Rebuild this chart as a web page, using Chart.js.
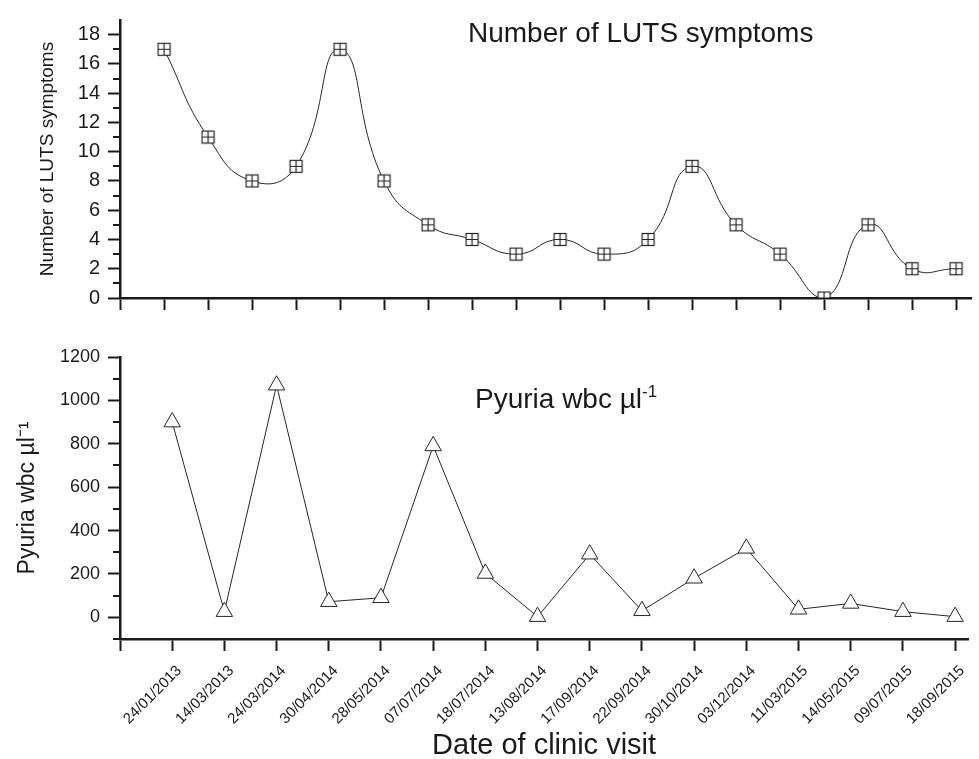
<!DOCTYPE html>
<html>
<head>
<meta charset="utf-8">
<script src="https://cdn.jsdelivr.net/npm/chart.js@4/dist/chart.umd.min.js"></script>
<style>
  html, body { margin: 0; padding: 0; background: #fff; }
  #wrap { position: relative; width: 979px; height: 759px; font-family: "Liberation Sans", Arial, sans-serif; color: #1a1a1a; }
  canvas { position: absolute; left: 0; top: 0; }
  .panelTitle { position: absolute; font-size: 28px; line-height: 28px; white-space: nowrap; }
  .panelTitle sup { font-size: 17px; vertical-align: 0; position: relative; top: -11px; }
</style>
</head>
<body>
<div id="wrap">
  <canvas id="lutsChart" width="979" height="759"></canvas>
  <canvas id="pyuriaChart" width="979" height="759"></canvas>
  <div class="panelTitle" style="left:468px;top:19px">Number of LUTS symptoms</div>
  <div class="panelTitle" style="left:475px;top:385px">Pyuria wbc &micro;l<sup>-1</sup></div>
</div>
<script>
// values
const visitDates = ['24/01/2013', '14/03/2013', '24/03/2014', '30/04/2014', '28/05/2014', '07/07/2014',
  '18/07/2014', '13/08/2014', '17/09/2014', '22/09/2014', '30/10/2014', '03/12/2014',
  '11/03/2015', '14/05/2015', '09/07/2015', '18/09/2015'];
const lutsCounts = [17, 11, 8, 9, 17, 8, 5, 4, 3, 4, 3, 4, 9, 5, 3, 0, 5, 2, 2];
const pyuriaWbc = [900, 26, 1070, 72, 90, 790, 202, 3, 291, 30, 180, 318, 37, 64, 26, 3];
const lutsTicks = [0, 2, 4, 6, 8, 10, 12, 14, 16, 18];
const lutsMinor = [1, 3, 5, 7, 9, 11, 13, 15, 17];
const pyuriaTicks = [0, 200, 400, 600, 800, 1000, 1200];
const pyuriaMinor = [-100, 100, 300, 500, 700, 900, 1100];

const ink = '#1a1a1a';
const lineInk = '#262626';
const font = '"Liberation Sans", Arial, sans-serif';
Chart.defaults.font.family = font;
Chart.defaults.color = ink;

// square with a plus inside, like the origin marker
function crossedSquare(size) {
  let c = document.createElement('canvas');
  c.width = size; c.height = size;
  let g = c.getContext('2d');
  let m = size / 2;
  g.fillStyle = '#fff';
  g.fillRect(1, 1, size - 2, size - 2);
  g.strokeStyle = lineInk;
  g.lineWidth = 1.2;
  g.strokeRect(1.5, 1.5, size - 3, size - 3);
  g.beginPath();
  g.moveTo(m, 1.5); g.lineTo(m, size - 1.5);
  g.moveTo(1.5, m); g.lineTo(size - 1.5, m);
  g.stroke();
  return c;
}

const minorTicks = {
  id: 'minorTicks',
  afterDraw(chart, args, opts) {
    let scale = chart.scales.y;
    let ctx = chart.ctx;
    ctx.save();
    ctx.strokeStyle = ink;
    ctx.lineWidth = 2;
    ctx.beginPath();
    opts.values.forEach(v => {
      let py = Math.round(scale.getPixelForValue(v));
      ctx.moveTo(scale.right - opts.length, py);
      ctx.lineTo(scale.right, py);
    });
    ctx.stroke();
    ctx.restore();
  }
};

const gridOpts = { drawOnChartArea: false, tickLength: 12, tickWidth: 2, tickColor: ink };
const borderOpts = { width: 2.5, color: ink };

new Chart(document.getElementById('lutsChart'), {
  type: 'line',
  data: {
    datasets: [{
      data: lutsCounts.map((v, i) => ({x: i + 1, y: v})),
      borderColor: lineInk,
      borderWidth: 1,
      tension: 0.5,
      pointStyle: crossedSquare(15),
      pointRadius: 7
    }]
  },
  options: {
    responsive: false,
    animation: false,
    events: [],
    layout: { padding: { top: 15, right: 0, bottom: 449, left: 0 } },
    plugins: {
      legend: { display: false },
      tooltip: { enabled: false },
      minorTicks: { values: lutsMinor, length: 7 }
    },
    scales: {
      x: {
        type: 'linear', min: 0, max: 19.34,
        afterBuildTicks: s => { s.ticks = lutsCounts.map((v, i) => ({value: i})).concat([{value: 19}]); },
        afterFit: s => { s.height = 12; },
        ticks: { display: false },
        grid: gridOpts,
        border: borderOpts
      },
      y: {
        min: 0, max: 19,
        afterBuildTicks: s => { s.ticks = lutsTicks.map(v => ({value: v})); },
        afterFit: s => { s.width = 120; },
        ticks: { font: { size: 20 }, color: ink, padding: 8, callback: v => String(v) },
        grid: gridOpts,
        border: borderOpts,
        title: { display: true, text: 'Number of LUTS symptoms', font: { size: 19 }, color: ink, padding: { top: 36, bottom: 0 } }
      }
    }
  },
  plugins: [minorTicks]
});

new Chart(document.getElementById('pyuriaChart'), {
  type: 'line',
  data: {
    datasets: [{
      data: pyuriaWbc.map((v, i) => ({x: i + 1, y: v})),
      borderColor: lineInk,
      borderWidth: 1,
      tension: 0,
      pointStyle: 'triangle',
      pointRadius: 9.5,
      pointBackgroundColor: '#fff',
      pointBorderColor: lineInk,
      pointBorderWidth: 1
    }]
  },
  options: {
    responsive: false,
    animation: false,
    events: [],
    layout: { padding: { top: 357, right: 0, bottom: 0, left: 0 } },
    plugins: {
      legend: { display: false },
      tooltip: { enabled: false },
      minorTicks: { values: pyuriaMinor, length: 7 }
    },
    scales: {
      x: {
        type: 'linear', min: 0, max: 16.25,
        afterBuildTicks: s => { s.ticks = [{value: 0}].concat(visitDates.map((d, i) => ({value: i + 1}))); },
        afterFit: s => { s.height = 120; },
        ticks: {
          autoSkip: false, minRotation: 45, maxRotation: 45,
          font: { size: 15 }, color: ink, padding: 11, labelOffset: 7,
          callback: v => visitDates[v - 1] || ''
        },
        grid: gridOpts,
        border: borderOpts,
        title: { display: true, text: 'Date of clinic visit', font: { size: 29, lineHeight: 0.9 }, color: ink, padding: 0 }
      },
      y: {
        min: -100, max: 1200,
        afterBuildTicks: s => { s.ticks = pyuriaTicks.map(v => ({value: v})); },
        afterFit: s => { s.width = 120; },
        ticks: { font: { size: 18 }, color: ink, padding: 8, callback: v => String(v) },
        grid: gridOpts,
        border: borderOpts,
        title: { display: true, text: 'Pyuria wbc µl⁻¹', font: { size: 23 }, color: ink, padding: { top: 14, bottom: 0 } }
      }
    }
  },
  plugins: [minorTicks]
});
</script>
</body>
</html>
